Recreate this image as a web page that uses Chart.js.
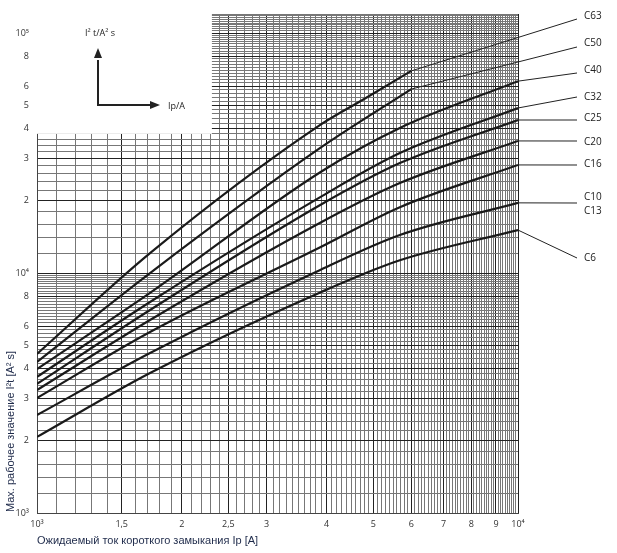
<!DOCTYPE html>
<html><head><meta charset="utf-8">
<script src="https://cdn.jsdelivr.net/npm/chart.js@4"></script>
<style>html,body{margin:0;padding:0;background:#fff}#w{width:617px;height:553px}</style>
</head><body><div id="w"><canvas id="c"></canvas></div>
<script>
const seriesNames = ['C63','C50','C40','C32','C25','C20','C16','C10','C6'];
const xC63 = [1000,1718,3880,4750,6000];
const yC63 = [4600,12100,41400,52600,69500];
const xC50 = [1000,1718,3880,6000];
const yC50 = [4260,10000,33200,58400];
const xStd = [1000,1718,3880,5680,10000];
const yC40 = [3980,8260,26300,40200,63000];
const yC32 = [3690,7570,20700,31600,48700];
const yC25 = [3450,7010,19200,28700,43400];
const yC20 = [3255,6370,16200,23700,35500];
const yC16 = [3015,5680,12800,18800,28200];
const yC10 = [2560,4640,10300,14400,19600];
const yC6  = [2075,3830,8300,11300,15100];
const yTickLabels = {1000:'10³',2000:'2',3000:'3',4000:'4',5000:'5',6000:'6',8000:'8',10000:'10⁴',20000:'2',30000:'3',40000:'4',50000:'5',60000:'6',80000:'8',100000:'10⁵'};
const xTickLabels = {1000:'10³',1500:'1,5',2000:'2',2500:'2,5',3000:'3',4000:'4',5000:'5',6000:'6',7000:'7',8000:'8',9000:'9',10000:'10⁴'};
const pairs=(xs,ys)=>xs.map((x,i)=>({x,y:ys[i]}));
const seriesData=[pairs(xC63,yC63),pairs(xC50,yC50),pairs(xStd,yC40),pairs(xStd,yC32),pairs(xStd,yC25),pairs(xStd,yC20),pairs(xStd,yC16),pairs(xStd,yC10),pairs(xStd,yC6)];
const labelPos={C63:[[16,19]],C50:[[43,47]],C40:[[70,73]],C32:[[97,97]],C25:[[118,120]],C20:[[142,141]],C16:[[164,165]],C10:[[197,203],[211,null]],C6:[[258,258]]};
const extraText={C10:'C13'};

const xTicks=[];for(let v=1000;v<=10000;v+=100)xTicks.push(v);
const yTicks=[];for(let v=1000;v<10000;v+=200)yTicks.push(v);for(let v=10000;v<=120000;v+=2000)yTicks.push(v);

const deco={id:'deco',
 beforeDatasetsDraw(ch){
  const c=ch.ctx,a=ch.chartArea,xs=ch.scales.x,ys=ch.scales.y;
  const r=xs.getPixelForValue(2310),b=ys.getPixelForValue(38000);
  c.save();c.fillStyle='#fff';c.fillRect(a.left-1,a.top-1,r-a.left+1,b-a.top+1);
  c.strokeStyle='#222';c.lineWidth=2;c.fillStyle='#222';
  c.beginPath();c.moveTo(98,60);c.lineTo(98,105);c.lineTo(152,105);c.stroke();
  c.beginPath();c.moveTo(98,48);c.lineTo(94,58);c.lineTo(102,58);c.closePath();c.fill();
  c.beginPath();c.moveTo(160,105);c.lineTo(150,101);c.lineTo(150,109);c.closePath();c.fill();
  c.font='9px "Open Sans"';c.fillStyle='#222';c.textBaseline='middle';
  c.fillText('I² t/A² s',85,33);c.fillText('Ip/A',168,106);
  c.restore();
 },
 afterDraw(ch){
  const c=ch.ctx,xs=ch.scales.x,ys=ch.scales.y;
  c.save();c.strokeStyle='#222';c.lineWidth=1;c.fillStyle='#222';
  c.font='10px "Open Sans"';c.textBaseline='middle';
  seriesNames.forEach((n,i)=>{
    const d=seriesData[i],p=d[d.length-1];
    const sx=xs.getPixelForValue(p.x),sy=ys.getPixelForValue(p.y);
    c.beginPath();c.moveTo(sx,sy);c.lineTo(577,labelPos[n][0][1]);c.stroke();
    c.fillText(n,584,labelPos[n][0][0]);
    if(extraText[n])c.fillText(extraText[n],584,labelPos[n][1][0]);
  });
  c.fillStyle='#1e2a4a';c.font='11px "Liberation Sans"';
  c.textAlign='left';c.fillText('Ожидаемый ток короткого замыкания Ip [A]',37,541);
  c.translate(11,512);c.rotate(-Math.PI/2);c.fillText('Max. рабочее значение I²t [A² s]',0,0);
  c.restore();
 }};

new Chart(document.getElementById('c'),{
 type:'line',
 data:{datasets:seriesData.map((d,i)=>({label:seriesNames[i],data:d,borderColor:'#1a1a1a',borderWidth:2.2,pointRadius:0,cubicInterpolationMode:'monotone',fill:false}))},
 options:{responsive:true,maintainAspectRatio:false,animation:false,
  layout:{padding:{top:14,right:99,left:0,bottom:0}},
  plugins:{legend:{display:false},tooltip:{enabled:false}},
  scales:{
   x:{type:'logarithmic',min:1000,max:10000,
    afterBuildTicks:s=>{s.ticks=xTicks.map(v=>({value:v}));},
    afterFit:s=>{s.height=40;},
    ticks:{autoSkip:false,maxRotation:0,padding:6,color:'#333',font:{size:9,family:'Open Sans'},callback:v=>xTickLabels[v]||''},
    grid:{color:ctx=>xTickLabels[ctx.tick&&ctx.tick.value]?'#222':'#777',lineWidth:1,drawTicks:false},
    border:{color:'#444'}},
   y:{type:'logarithmic',min:1000,max:120000,
    afterBuildTicks:s=>{s.ticks=yTicks.map(v=>({value:v}));},
    afterFit:s=>{s.width=37;},
    ticks:{autoSkip:false,padding:8,color:'#333',font:{size:9,family:'Open Sans'},callback:v=>yTickLabels[v]||''},
    grid:{color:ctx=>yTickLabels[ctx.tick&&ctx.tick.value]?'#222':'#777',lineWidth:1,drawTicks:false},
    border:{color:'#444'}}
  }},
 plugins:[deco]});
</script></body></html>
